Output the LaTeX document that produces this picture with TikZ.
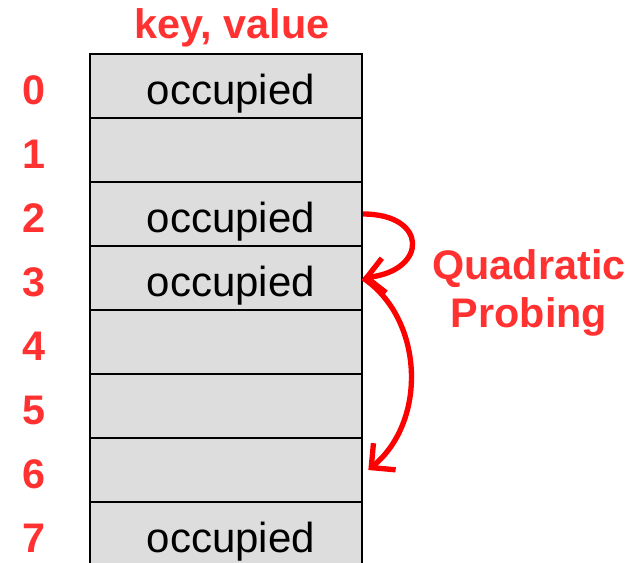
\documentclass[tikz,border=0pt]{standalone}
\usepackage{fontspec}
\setmainfont{Liberation Sans}
\usetikzlibrary{arrows.meta,positioning}
\definecolor{hred}{HTML}{FF3131}
\definecolor{pred}{HTML}{FF0000}
\definecolor{cellfill}{HTML}{DDDDDD}
\tikzset{
  every node/.style={font=\fontsize{31.5}{37}\selectfont, inner sep=0pt},
  cell/.style={draw=black, line width=1.5pt, fill=cellfill, minimum width=204pt,
               minimum height=48pt, text height=27pt, text depth=0pt,
               execute at begin node=\hspace*{7.5pt}},
  lab/.style={text=hred, font=\fontsize{31}{37}\selectfont\bfseries, anchor=base},
  probe/.style={-{Straight Barb[length=13pt,width=26pt]}, draw=pred, line width=4pt},
}
\begin{document}
\begin{tikzpicture}[x=0.75pt, y=-0.75pt]
\useasboundingbox (0,0) rectangle (638,562);
% ---- table ------------------------------------------------------------------
\foreach \i/\t in {0/occupied,1/{},2/occupied,3/occupied,4/{},5/{},6/{},7/occupied}
  \node[cell] (c\i) at (226,86+64*\i) {\t};

% ---- indices and header -----------------------------------------------------
\foreach \i in {0,...,7}
  \node[lab] (n\i) at (34,104+64*\i) {\i};
\node[lab] (head) at (232,38) {key, value};

% ---- probing ----------------------------------------------------------------
\node[lab] (quad) at (529,279) {Quadratic};
\node[lab] (prob) at ([yshift=-36pt]quad.base) {Probing};
\draw[probe] (c2.east) .. controls +(65,0) and +(65,-8) .. (c3.east);
\draw[probe] (c3.east) .. controls +(60,40) and +(60,-50) .. ([xshift=4pt]c6.east);
\end{tikzpicture}
\end{document}
